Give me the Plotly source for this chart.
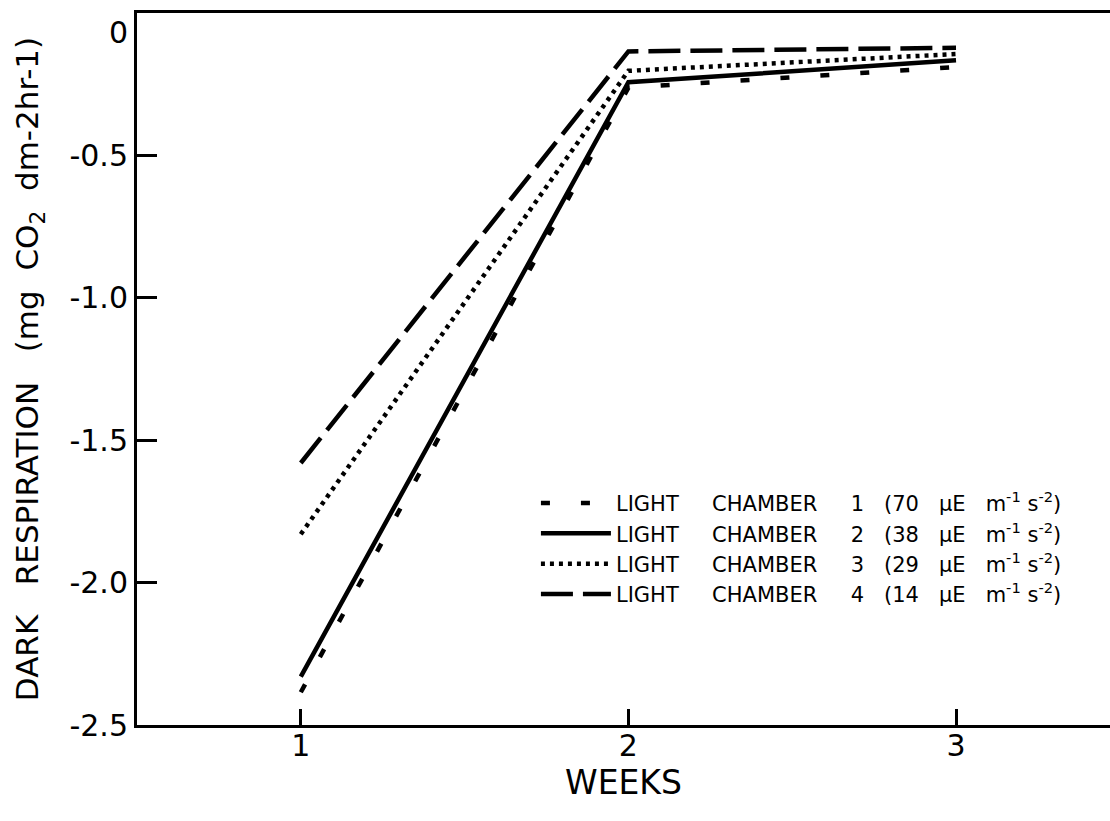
import plotly.graph_objects as go

weeks = [1, 2, 3]
chamber1 = [-2.385, -0.262, -0.19]
chamber2 = [-2.33, -0.243, -0.166]
chamber3 = [-1.83, -0.203, -0.144]
chamber4 = [-1.58, -0.135, -0.122]

NB = "\u00a0"
light_levels = ["70", "38", "29", "14"]
chamber_ids = ["1", "2", "3", "4"]
labels = [
    f"LIGHT{NB*5}CHAMBER{NB*5}{c}{NB*3}({lv}{NB*3}µE{NB*3}m<sup>-1</sup>{NB}s<sup>-2</sup>)"
    for c, lv in zip(chamber_ids, light_levels)
]
series = [chamber1, chamber2, chamber3, chamber4]
dashes = ["9px,31px", "solid", "4px,5px", "32px,10px"]

ytick_vals = [0, -0.5, -1.0, -1.5, -2.0, -2.5]
ytick_text = ["<br>0", "-0.5", "-1.0", "-1.5", "-2.0", "-2.5"]
xtick_vals = [1, 2, 3]
xtick_text = ["1", "2", "3"]

FONT = "DejaVu Sans, Liberation Sans, sans-serif"

fig = go.Figure()
for name, ys, dash in zip(labels, series, dashes):
    fig.add_trace(go.Scatter(
        x=weeks, y=ys, mode="lines", name=name,
        line=dict(color="black", width=4.5, dash=dash),
    ))

fig.update_layout(
    width=1110, height=821,
    margin=dict(l=137, r=0, t=13, b=96),
    paper_bgcolor="white", plot_bgcolor="white",
    font=dict(family=FONT, color="black"),
    showlegend=True,
    legend=dict(
        x=0.41, y=0.34, xanchor="left", yanchor="top",
        font=dict(size=21, family=FONT, color="black"),
        bgcolor="rgba(0,0,0,0)", tracegroupgap=0, itemwidth=70,
    ),
    xaxis=dict(
        range=[0.5, 3.47], tickvals=xtick_vals, ticktext=xtick_text,
        showgrid=False, zeroline=False, showline=True, linecolor="black",
        linewidth=3, mirror=True, ticks="inside", ticklen=16, tickwidth=3,
        tickcolor="black", tickfont=dict(size=30, family=FONT),
        ticklabelstandoff=-8,
        title=dict(text="WEEKS", font=dict(size=33, family=FONT), standoff=0),
    ),
    yaxis=dict(
        range=[-2.5, 0], tickvals=ytick_vals, ticktext=ytick_text,
        showgrid=False, zeroline=False, showline=True, linecolor="black",
        linewidth=3, ticks="inside", ticklen=20, tickwidth=3,
        tickcolor="black", tickfont=dict(size=30, family=FONT),
        title=dict(
            text=f"DARK{NB*3}RESPIRATION{NB*3}(mg{NB*2}CO<sub>2</sub>{NB*2}dm-2hr-1)",
            font=dict(size=31, family=FONT), standoff=22,
        ),
    ),
)

fig.write_html("out.html")
